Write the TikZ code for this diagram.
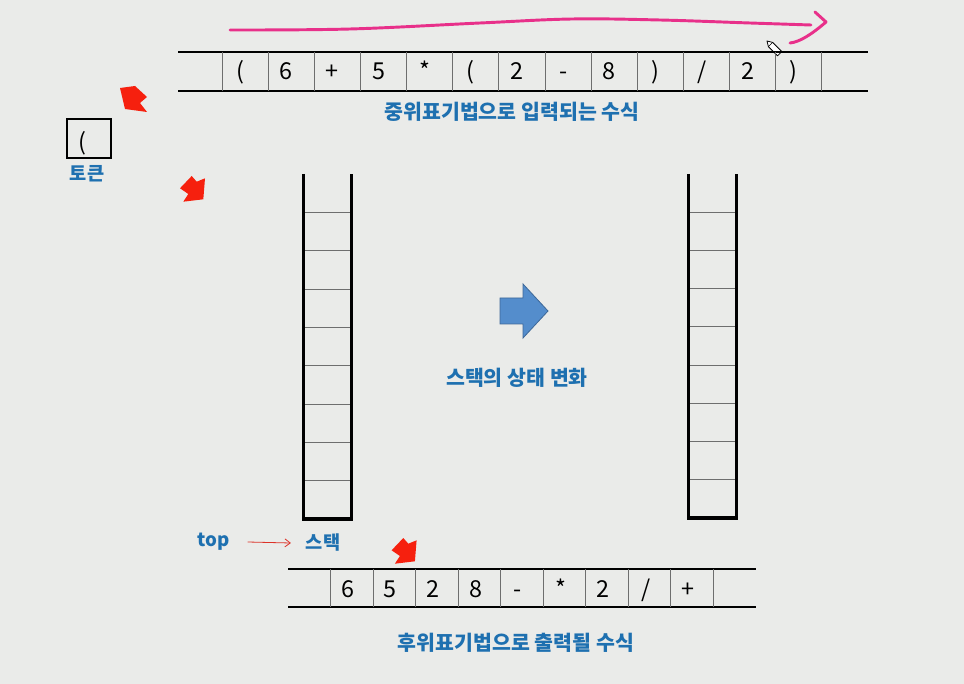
\documentclass[tikz,border=0pt]{standalone}
\usepackage{fontspec}
\setmainfont{Noto Sans CJK KR}
\usetikzlibrary{arrows.meta}
\definecolor{bg}{RGB}{234,235,233}
\definecolor{lblc}{RGB}{30,112,176}
\definecolor{pinkc}{RGB}{232,48,138}
\definecolor{redc}{RGB}{246,32,14}
\definecolor{thinred}{RGB}{220,50,40}
\definecolor{arrfill}{RGB}{84,141,204}
\definecolor{arrdraw}{RGB}{62,104,152}
\definecolor{divc}{RGB}{110,110,110}
\tikzset{
  lbl/.style={text=lblc, font=\bfseries\fontsize{15.4}{17}\selectfont, inner sep=0pt},
  lblsmall/.style={text=lblc, font=\bfseries\fontsize{14}{16}\selectfont, inner sep=0pt},
  celltext/.style={font=\fontsize{17.5}{19}\selectfont, inner sep=0pt, anchor=base},
  rowline/.style={line width=1pt, black},
  divline/.style={line width=0.7pt, divc},
  wall/.style={line width=2.3pt, black, line join=miter},
  redblock/.style={fill=redc, draw=none},
}
\begin{document}
\begin{tikzpicture}[x=0.75pt,y=-0.75pt]
\fill[bg] (0,0) rectangle (964,684);
\useasboundingbox (0,0) rectangle (964,684);

% ---------- pink stroke ----------
\draw[pinkc, line width=2.2pt, line cap=round, line join=round]
  plot[smooth, tension=0.6] coordinates {(230,30) (350,29) (480,23) (572,19) (660,20) (750,23) (811,25)};
\draw[pinkc, line width=2.2pt, line cap=round, line join=round]
  (815,12) -- (826,22) .. controls (812,34) and (800,42) .. (790,43);

% ---------- pencil cursor ----------
\draw[fill=white, line width=0.6pt, line join=round]
  (767,41) -- (772.6,42.4) -- (781.8,51.6) -- (777.6,55.8) -- (768.4,46.6) -- cycle;
\draw[line width=0.5pt] (772.6,42.4) -- (768.4,46.6);

% ---------- infix row ----------
\draw[rowline] (178,52) -- (868,52);
\draw[rowline] (178,91) -- (868,91);
\foreach \i in {0,...,13} {
  \draw[divline] ({222+46.15*\i},52) -- ({222+46.15*\i},91);
}
\foreach \t [count=\k from 0] in {{(},{6},{+},{5},{*},{(},{2},{-},{8},{)},{/},{2},{)}} {
  \node[celltext] (in\k) at ({222+46.15*(\k+0.5)-5},80) {\t};
}
\node[lbl] (inlabel) at (512,112) {중위표기법으로 입력되는 수식};

% ---------- token box ----------
\draw[line width=1.1pt] (67,119) rectangle (111,158);
\node[celltext] (tok) at (82,151) {(};
\node[lblsmall] (toklabel) at (87,174) {토큰};

% ---------- red block arrows ----------
\fill[redblock] (120,88) -- (135,86) -- (147,97) -- (140,103) -- (147,112) -- (125,109) -- cycle;
\fill[redblock] (191.7,176) -- (196.7,181.7) -- (205,178.3) -- (203.3,199.3) -- (183.3,201.7) -- (188.3,194) -- (180,188.3) -- cycle;
\begin{scope}[shift={(211.6,362)}]
\fill[redblock] (191.7,176) -- (196.7,181.7) -- (205,178.3) -- (203.3,199.3) -- (183.3,201.7) -- (188.3,194) -- (180,188.3) -- cycle;
\end{scope}

% ---------- stack 1 ----------
\foreach \k in {1,...,8} {
  \draw[divline] (303.3,{174+38.33*\k}) -- (351.7,{174+38.33*\k});
}
\draw[wall] (303.3,174) -- (303.3,519) -- (351.7,519) -- (351.7,174);

% ---------- stack 2 ----------
\foreach \k in {1,...,8} {
  \draw[divline] (688.3,{174+38.22*\k}) -- (736.7,{174+38.22*\k});
}
\draw[wall] (688.3,174) -- (688.3,518) -- (736.7,518) -- (736.7,174);

% ---------- blue arrow ----------
\filldraw[fill=arrfill, draw=arrdraw, line width=0.6pt, line join=miter]
  (500,298) -- (523,298) -- (523,284) -- (548,311) -- (523,338) -- (523,324) -- (500,324) -- cycle;
\node[lbl] (statelabel) at (517,378) {스택의 상태 변화};

% ---------- top / stack label ----------
\node[lblsmall] (top) at (214,542) {top};
\node[lblsmall] (stk) at (323,543) {스택};
\draw[thinred, line width=0.6pt, -{Straight Barb[length=4pt,width=6pt]}]
  ([xshift=13pt]top.east) -- ([xshift=-11pt]stk.west);

% ---------- postfix row ----------
\draw[rowline] (288,569) -- (756,569);
\draw[rowline] (288,607) -- (756,607);
\foreach \i in {0,...,9} {
  \draw[divline] ({330.6+42.54*\i},569) -- ({330.6+42.54*\i},607);
}
\foreach \t [count=\k from 0] in {{6},{5},{2},{8},{-},{*},{2},{/},{+}} {
  \node[celltext] (out\k) at ({330.6+42.54*(\k+0.5)-4},597) {\t};
}
\node[lbl] (outlabel) at (516,643) {후위표기법으로 출력될 수식};
\end{tikzpicture}
\end{document}
